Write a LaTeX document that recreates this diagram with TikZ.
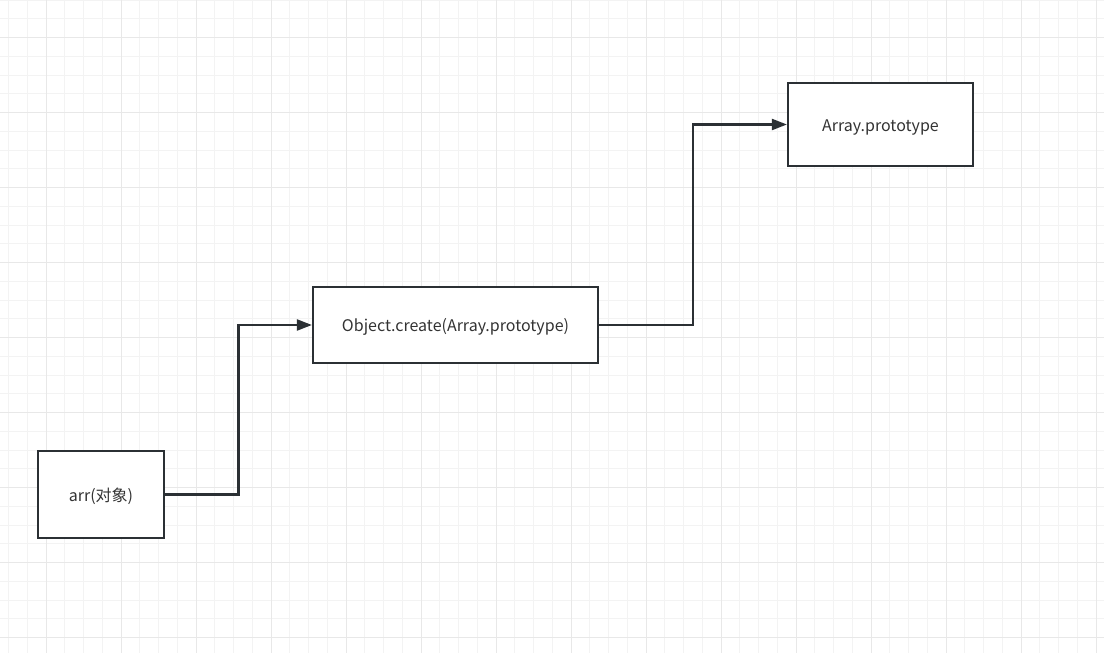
\documentclass[tikz,border=0pt]{standalone}
\usepackage{fontspec}
\setmainfont{Noto Sans CJK SC}
\usetikzlibrary{arrows.meta,calc}
\definecolor{linegray}{HTML}{2B3034}
\definecolor{textgray}{HTML}{333333}
\definecolor{minorgrid}{HTML}{F3F3F3}
\definecolor{majorgrid}{HTML}{E8E8E8}
\tikzset{
	box/.style = {draw = linegray, line width = 2.2pt, fill = white, inner sep = 0pt, text = textgray, text height = 13pt, text depth = 0pt, font = \fontsize{16}{18}\selectfont},
	link/.style = {draw = linegray, line width = 2.2pt, -{Triangle[length = 15pt, width = 11pt]}}
}
\begin{document}
\begin{tikzpicture}[x = 1pt, y = -1pt]
	\useasboundingbox (0,0) rectangle (1104,653);
	\fill[white] (0,0) rectangle (1104,653);
	% grid
	\foreach \i in {-2,...,59} {
		\draw[minorgrid, line width = 1pt] ({46+18.75*\i},0) -- ({46+18.75*\i},653); %vertical
	}
	\foreach \i in {-2,...,34} {
		\draw[minorgrid, line width = 1pt] (0,{37.5+18.75*\i}) -- (1104,{37.5+18.75*\i}); %horizontal
	}
	\foreach \i in {0,...,14} \draw[majorgrid, line width = 1pt] ({46+75*\i},0) -- ({46+75*\i},653);
	\foreach \i in {0,...,8} \draw[majorgrid, line width = 1pt] (0,{37.5+75*\i}) -- (1104,{37.5+75*\i});
	% boxes
	\node[box, minimum width = 126pt, minimum height = 87pt] (arr) at (101,494.5) {arr(对象)};
	\node[box, minimum width = 285pt, minimum height = 76pt] (create) at (455.5,325) {Object.create(Array.prototype)};
	\node[box, minimum width = 185pt, minimum height = 83pt] (proto) at (880.5,124.5) {Array.prototype};
	% links
	\draw[link] (arr.east) -| ($(arr.east)!.5!(create.west)$) |- (create.west);
	\draw[link] (create.east) -| ($(create.east)!.5!(proto.west)$) |- (proto.west);
\end{tikzpicture}
\end{document}
